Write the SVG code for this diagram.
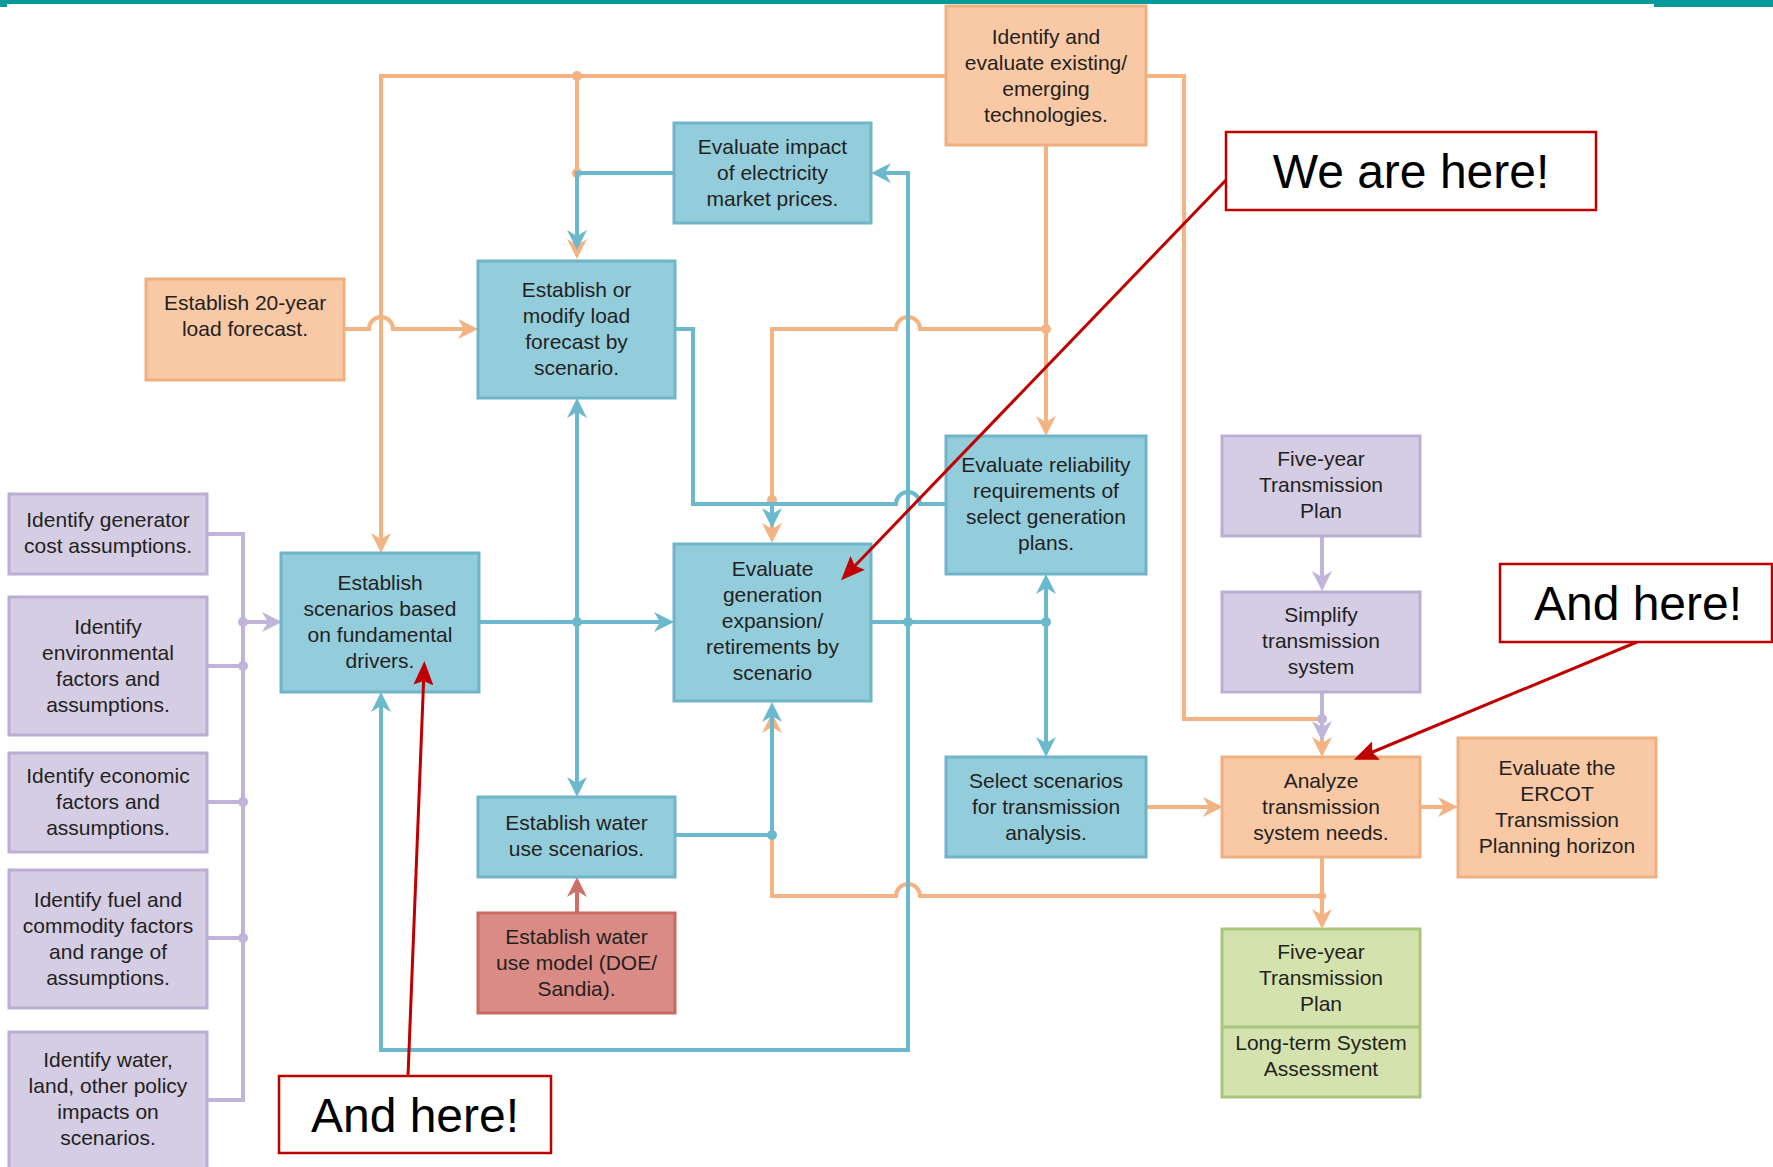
<svg xmlns="http://www.w3.org/2000/svg" width="1773" height="1167" viewBox="0 0 1773 1167">
<style>
text{font-family:"Liberation Sans",Arial,sans-serif;font-size:21px;fill:#231f20;text-anchor:middle}
.call text{font-size:48px;fill:#000}
.bo{fill:#f9c9a5;stroke:#f0b07e;stroke-width:3}
.bb{fill:#93cddc;stroke:#6fb4c7;stroke-width:3}
.bp{fill:#d5cde4;stroke:#bbaed5;stroke-width:3}
.br{fill:#da8b85;stroke:#c96a63;stroke-width:3}
.bg{fill:#d4e3ae;stroke:#a8c67c;stroke-width:3}
.lo{fill:none;stroke:#f4b383;stroke-width:4}
.lb{fill:none;stroke:#6cb8cc;stroke-width:4}
.lp{fill:none;stroke:#c0b4d9;stroke-width:4}
.lr{fill:none;stroke:#cf7068;stroke-width:4}
.lc{fill:none;stroke:#c00000;stroke-width:3}
.cb{fill:#fff;stroke:#c00000;stroke-width:2.5}
.do{fill:#f4b383}.db{fill:#6cb8cc}.dp{fill:#c0b4d9}
</style>
<defs>
<marker id="ao" viewBox="0 0 20 20" markerWidth="20" markerHeight="20" refX="12" refY="10" orient="auto" markerUnits="userSpaceOnUse"><path d="M0,0 L20,10 L0,20 L6,10 Z" fill="#f4b383"/></marker>
<marker id="ab" viewBox="0 0 20 20" markerWidth="20" markerHeight="20" refX="12" refY="10" orient="auto" markerUnits="userSpaceOnUse"><path d="M0,0 L20,10 L0,20 L6,10 Z" fill="#6cb8cc"/></marker>
<marker id="ap" viewBox="0 0 20 20" markerWidth="20" markerHeight="20" refX="12" refY="10" orient="auto" markerUnits="userSpaceOnUse"><path d="M0,0 L20,10 L0,20 L6,10 Z" fill="#c0b4d9"/></marker>
<marker id="ar" viewBox="0 0 20 20" markerWidth="20" markerHeight="20" refX="12" refY="10" orient="auto" markerUnits="userSpaceOnUse"><path d="M0,0 L20,10 L0,20 L6,10 Z" fill="#cf7068"/></marker>
<marker id="ac" viewBox="0 0 24 20" markerWidth="24" markerHeight="20" refX="14" refY="10" orient="auto" markerUnits="userSpaceOnUse"><path d="M0,0 L24,10 L0,20 L4,10 Z" fill="#c00000"/></marker>
</defs>

<g id="topbar">
<rect x="0" y="0" width="1654" height="4" fill="#05999a"/>
<rect x="1654" y="0" width="119" height="7" fill="#05999a"/>
<rect x="0" y="0" width="7" height="7" fill="#05999a"/>
</g>

<g id="connectors">
<!-- orange -->
<path class="lo" d="M946,76 H381 V545" marker-end="url(#ao)"/>
<path class="lo" d="M577,76 V251" marker-end="url(#ao)"/>
<path class="lo" d="M1146,76 H1184 V719 H1322 V749" marker-end="url(#ao)"/>
<path class="lo" d="M1046,145 V428" marker-end="url(#ao)"/>
<path class="lo" d="M1046,329 H920 A12,12 0 0 0 896,329 H772 V535" marker-end="url(#ao)"/>
<path class="lo" d="M344,329 H369 A12,12 0 0 1 393,329 H470" marker-end="url(#ao)"/>
<path class="lo" d="M1322,857 V921" marker-end="url(#ao)"/>
<path class="lo" d="M1322,896 H920 A12,12 0 0 0 896,896 H772 V721" marker-end="url(#ao)"/>
<path class="lo" d="M1146,807 H1215" marker-end="url(#ao)"/>
<path class="lo" d="M1421,807 H1450" marker-end="url(#ao)"/>
<circle class="do" cx="577" cy="76" r="5"/>
<circle class="do" cx="1046" cy="329" r="5"/>
<circle class="do" cx="577" cy="173" r="5"/>
<circle class="do" cx="772" cy="500" r="5"/>
<circle class="do" cx="1322" cy="896" r="4"/>
<!-- blue -->
<path class="lb" d="M674,173 H577 V242" marker-end="url(#ab)"/>
<path class="lb" d="M676,329 H693 V504 H896 A12,12 0 0 1 920,504 H946"/>
<path class="lb" d="M772,504 V520" marker-end="url(#ab)"/>
<path class="lb" d="M908,622 V1050 H381 V700" marker-end="url(#ab)"/>
<path class="lb" d="M908,622 V173 H879" marker-end="url(#ab)"/>
<path class="lb" d="M871,622 H1046"/>
<path class="lb" d="M1046,622 V582" marker-end="url(#ab)"/>
<path class="lb" d="M1046,622 V749" marker-end="url(#ab)"/>
<path class="lb" d="M479,622 H666" marker-end="url(#ab)"/>
<path class="lb" d="M577,622 V406" marker-end="url(#ab)"/>
<path class="lb" d="M577,622 V789" marker-end="url(#ab)"/>
<path class="lb" d="M675,835 H772 V710" marker-end="url(#ab)"/>
<circle class="db" cx="577" cy="622" r="5"/>
<circle class="db" cx="908" cy="622" r="5"/>
<circle class="db" cx="1046" cy="622" r="5"/>
<circle class="db" cx="772" cy="835" r="5"/>
<!-- red -->
<path class="lr" d="M577,913 V885" marker-end="url(#ar)"/>
<!-- purple -->
<path class="lp" d="M207,534 H243 V1100 H207 M207,666 H243 M207,802 H243 M207,938 H243"/>
<path class="lp" d="M243,622 H274" marker-end="url(#ap)"/>
<path class="lp" d="M1322,536 V583" marker-end="url(#ap)"/>
<path class="lp" d="M1322,692 V733" marker-end="url(#ap)"/>
<circle class="dp" cx="243" cy="622" r="5"/>
<circle class="dp" cx="243" cy="666" r="5"/>
<circle class="dp" cx="243" cy="802" r="5"/>
<circle class="dp" cx="243" cy="938" r="5"/>
<circle class="dp" cx="1322" cy="719" r="5"/>
</g>

<g id="n-tech"><rect class="bo" x="946" y="6" width="200" height="139"/>
<text x="1046" y="44">Identify and</text><text x="1046" y="70">evaluate existing/</text><text x="1046" y="96">emerging</text><text x="1046" y="122">technologies.</text></g>

<g id="n-price"><rect class="bb" x="674" y="123" width="197" height="100"/>
<text x="772.5" y="154">Evaluate impact</text><text x="772.5" y="180">of electricity</text><text x="772.5" y="206">market prices.</text></g>

<g id="n-load20"><rect class="bo" x="146" y="279" width="198" height="101"/>
<text x="245" y="310">Establish 20-year</text><text x="245" y="336">load forecast.</text></g>

<g id="n-loadmod"><rect class="bb" x="478" y="261" width="197" height="137"/>
<text x="576.5" y="297">Establish or</text><text x="576.5" y="323">modify load</text><text x="576.5" y="349">forecast by</text><text x="576.5" y="375">scenario.</text></g>

<g id="n-drivers"><rect class="bb" x="281" y="553" width="198" height="139"/>
<text x="380" y="590">Establish</text><text x="380" y="616">scenarios based</text><text x="380" y="642">on fundamental</text><text x="380" y="668">drivers.</text></g>

<g id="n-gen"><rect class="bb" x="674" y="544" width="197" height="157"/>
<text x="772.5" y="576">Evaluate</text><text x="772.5" y="602">generation</text><text x="772.5" y="628">expansion/</text><text x="772.5" y="654">retirements by</text><text x="772.5" y="680">scenario</text></g>

<g id="n-rel"><rect class="bb" x="946" y="436" width="200" height="138"/>
<text x="1046" y="472">Evaluate reliability</text><text x="1046" y="498">requirements of</text><text x="1046" y="524">select generation</text><text x="1046" y="550">plans.</text></g>

<g id="n-5yr"><rect class="bp" x="1222" y="436" width="198" height="100"/>
<text x="1321" y="466">Five-year</text><text x="1321" y="492">Transmission</text><text x="1321" y="518">Plan</text></g>

<g id="n-simplify"><rect class="bp" x="1222" y="592" width="198" height="100"/>
<text x="1321" y="622">Simplify</text><text x="1321" y="648">transmission</text><text x="1321" y="674">system</text></g>

<g id="n-select"><rect class="bb" x="946" y="757" width="200" height="100"/>
<text x="1046" y="788">Select scenarios</text><text x="1046" y="814">for transmission</text><text x="1046" y="840">analysis.</text></g>

<g id="n-analyze"><rect class="bo" x="1222" y="757" width="198" height="100"/>
<text x="1321" y="788">Analyze</text><text x="1321" y="814">transmission</text><text x="1321" y="840">system needs.</text></g>

<g id="n-ercot"><rect class="bo" x="1458" y="738" width="198" height="139"/>
<text x="1557" y="775">Evaluate the</text><text x="1557" y="801">ERCOT</text><text x="1557" y="827">Transmission</text><text x="1557" y="853">Planning horizon</text></g>

<g id="n-green"><rect class="bg" x="1222" y="929" width="198" height="168"/>
<line x1="1222" y1="1027" x2="1420" y2="1027" stroke="#a8c67c" stroke-width="3"/>
<text x="1321" y="959">Five-year</text><text x="1321" y="985">Transmission</text><text x="1321" y="1011">Plan</text>
<text x="1321" y="1050">Long-term System</text><text x="1321" y="1076">Assessment</text></g>

<g id="n-water"><rect class="bb" x="478" y="797" width="197" height="80"/>
<text x="576.5" y="830">Establish water</text><text x="576.5" y="856">use scenarios.</text></g>

<g id="n-watermodel"><rect class="br" x="478" y="913" width="197" height="100"/>
<text x="576.5" y="944">Establish water</text><text x="576.5" y="970">use model (DOE/</text><text x="576.5" y="996">Sandia).</text></g>

<g id="p-gencost"><rect class="bp" x="9" y="494" width="198" height="80"/>
<text x="108" y="527">Identify generator</text><text x="108" y="553">cost assumptions.</text></g>

<g id="p-env"><rect class="bp" x="9" y="597" width="198" height="138"/>
<text x="108" y="634">Identify</text><text x="108" y="660">environmental</text><text x="108" y="686">factors and</text><text x="108" y="712">assumptions.</text></g>

<g id="p-econ"><rect class="bp" x="9" y="753" width="198" height="99"/>
<text x="108" y="783">Identify economic</text><text x="108" y="809">factors and</text><text x="108" y="835">assumptions.</text></g>

<g id="p-fuel"><rect class="bp" x="9" y="870" width="198" height="138"/>
<text x="108" y="907">Identify fuel and</text><text x="108" y="933">commodity factors</text><text x="108" y="959">and range of</text><text x="108" y="985">assumptions.</text></g>

<g id="p-water"><rect class="bp" x="9" y="1032" width="198" height="145"/>
<text x="108" y="1067">Identify water,</text><text x="108" y="1093">land, other policy</text><text x="108" y="1119">impacts on</text><text x="108" y="1145">scenarios.</text></g>

<g id="callouts" class="call">
<g id="c-we"><path class="lc" d="M1226,180 L848,573" marker-end="url(#ac)"/>
<rect class="cb" x="1226" y="132" width="370" height="78"/>
<text x="1411" y="188">We are here!</text></g>
<g id="c-right"><path class="lc" d="M1637,642 L1363,756" marker-end="url(#ac)"/>
<rect class="cb" x="1500" y="564" width="272" height="78"/>
<text x="1638" y="620">And here!</text></g>
<g id="c-bottom"><path class="lc" d="M408,1076 L424,671" marker-end="url(#ac)"/>
<rect class="cb" x="279" y="1076" width="272" height="77"/>
<text x="415" y="1132">And here!</text></g>
</g>
</svg>
